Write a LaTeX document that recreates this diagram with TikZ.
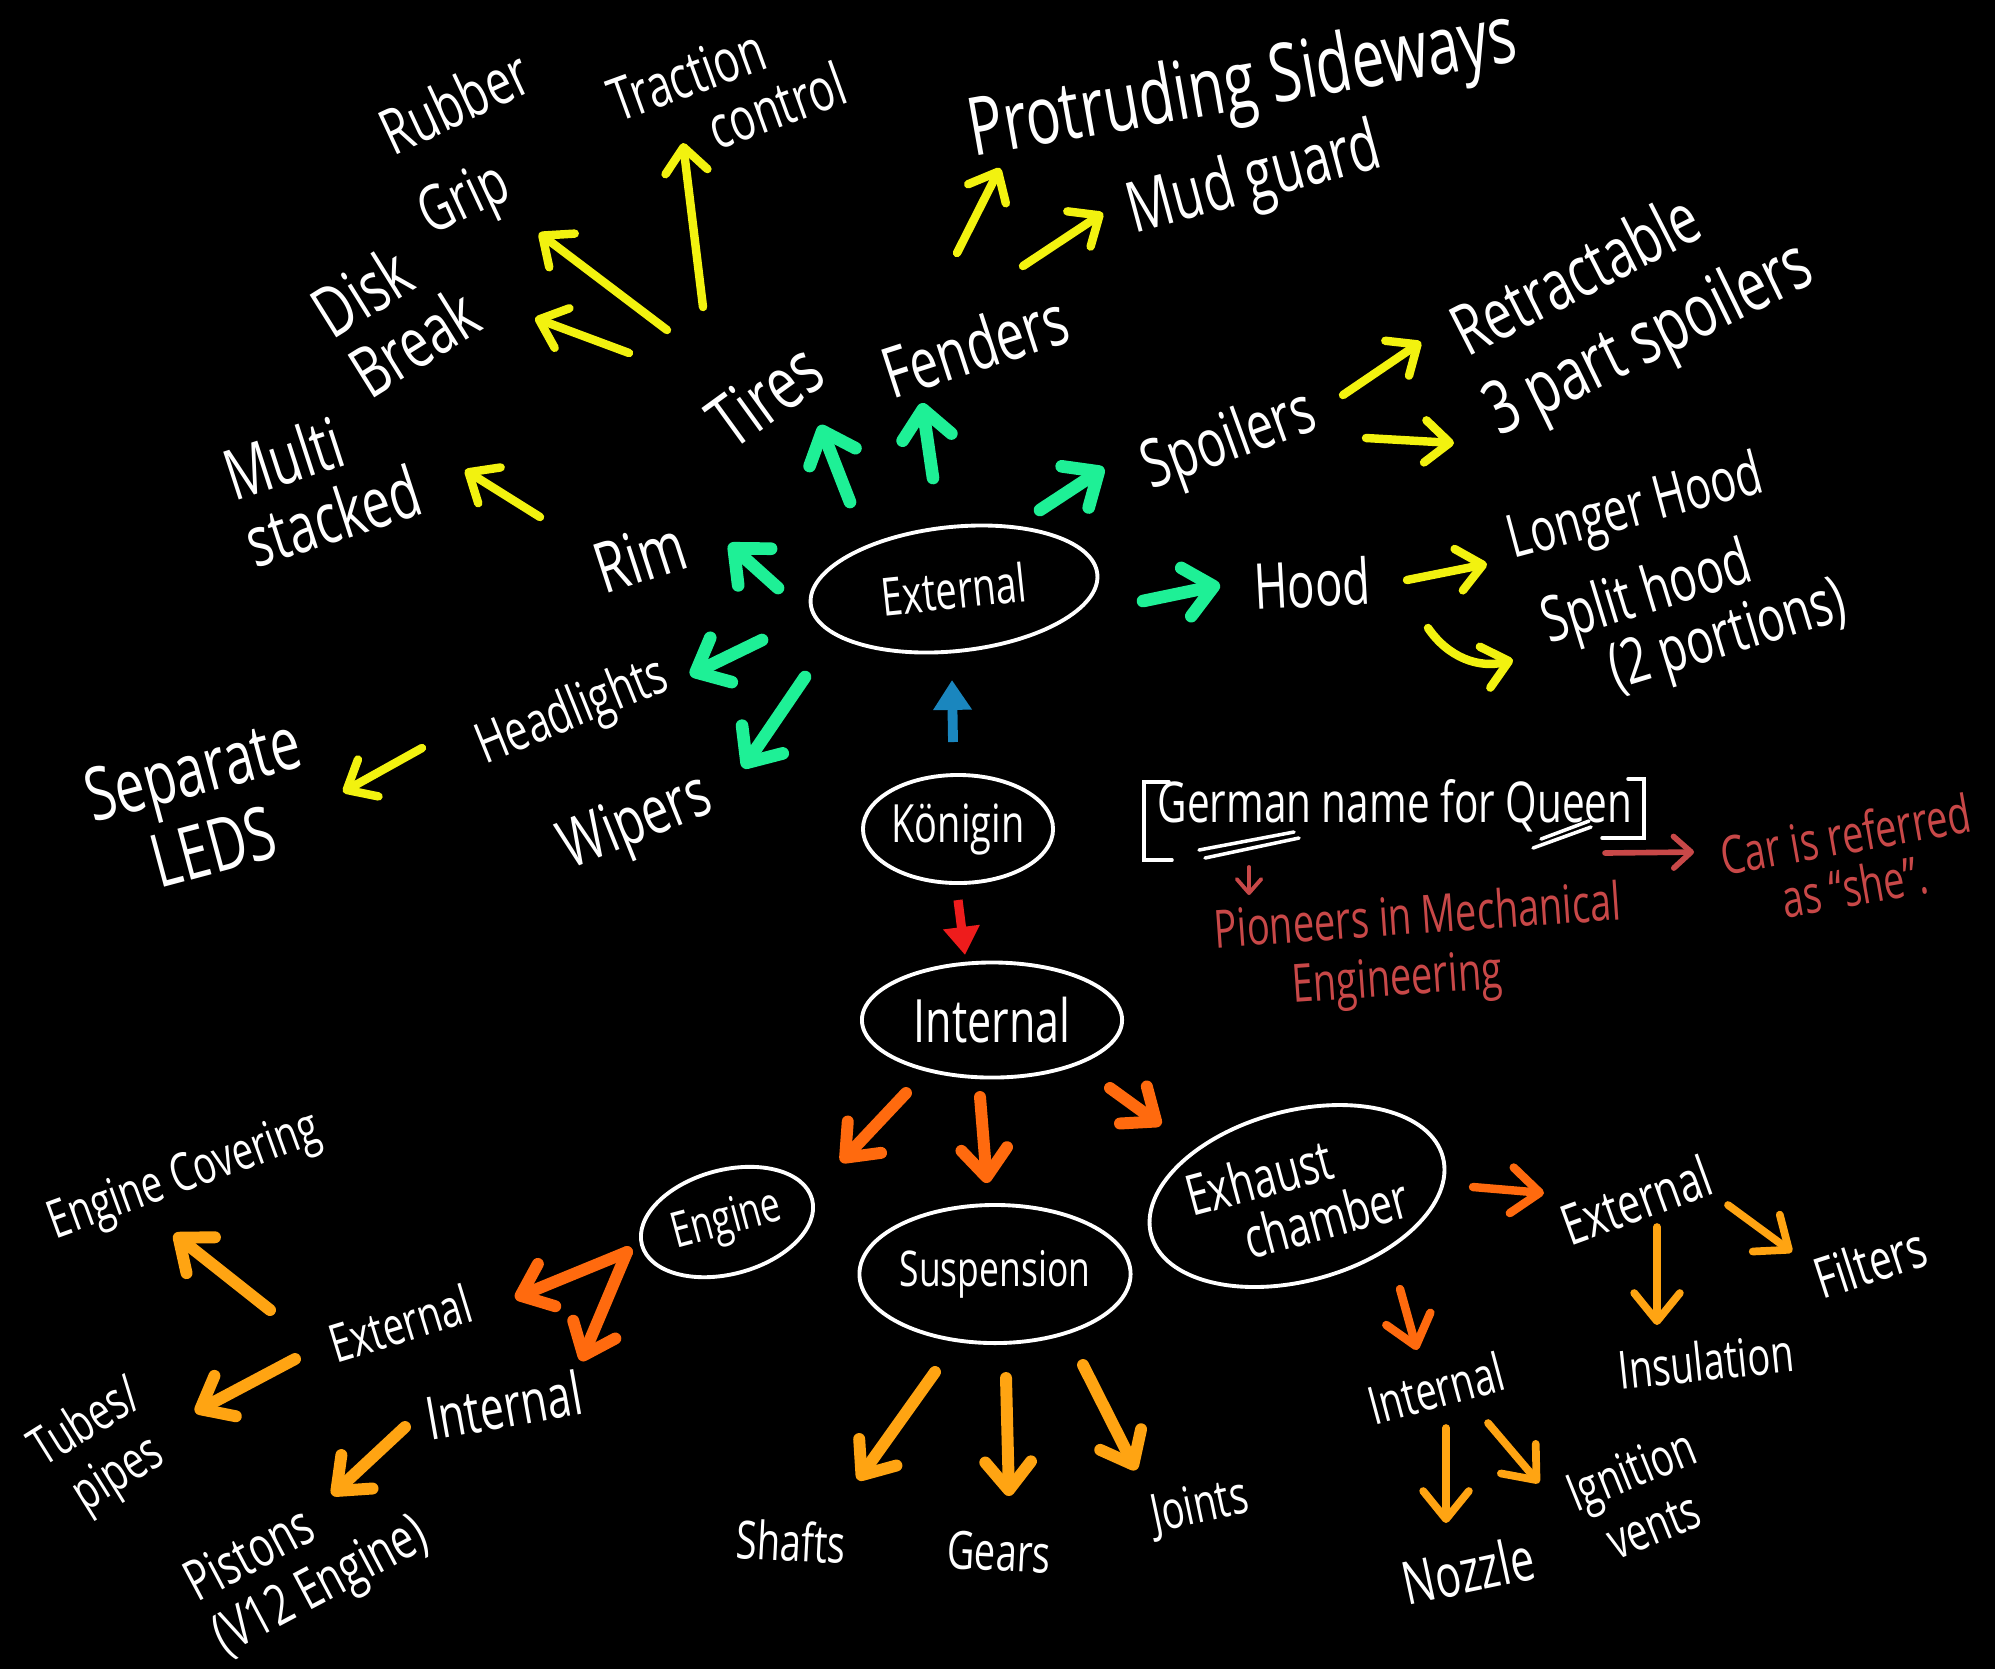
\documentclass[tikz,border=0pt]{standalone}
\usepackage{fontspec}
\setmainfont{Open Sans}[FakeStretch=0.72]
\usetikzlibrary{arrows.meta,shapes.geometric}

\definecolor{mint}{HTML}{1EF096}
\definecolor{lemon}{HTML}{F2F20F}
\definecolor{flame}{HTML}{FF6A0E}
\definecolor{amber}{HTML}{FFA412}
\definecolor{sky}{HTML}{1A86BE}
\definecolor{alarm}{HTML}{EE1C1C}
\definecolor{rose}{HTML}{C84848}
\newcommand{\fsz}[1]{\fontsize{#1}{#1}\selectfont}

\begin{document}
\begin{tikzpicture}[x=0.01cm,y=-0.01cm,
  hand/.style={text=white,align=center,inner sep=1pt},
  bubble/.style={draw=white,line width=1.1pt,ellipse,text=white,inner sep=0pt},
  chalk/.style={white,line width=1pt,line cap=round},
  garrow/.style={mint,line width=3.6pt,line cap=round,-{Straight Barb[length=8pt,width=14pt,round]}},
  yarrow/.style={lemon,line width=2.4pt,line cap=round,-{Straight Barb[length=7pt,width=12pt,round]}},
  oarrow/.style={flame,line width=3.4pt,line cap=round,-{Straight Barb[length=8pt,width=13pt,round]}},
  aarrow/.style={amber,line width=3.4pt,line cap=round,-{Straight Barb[length=8pt,width=13pt,round]}},
  rarrow/.style={rose,line width=1.1pt,line cap=round,-{Straight Barb[length=4pt,width=7pt,round]}}]
\useasboundingbox (0,0) rectangle (1995,1669);
\fill[black] (0,0) rectangle (1995,1669);

% the bubbles
\node[bubble,minimum width=2.88cm,minimum height=1.24cm,rotate=6,font=\fsz{15}] (ext) at (954,589) {External};
\node[bubble,minimum width=1.9cm,minimum height=1.08cm,font=\fsz{15}] (kon) at (958,829) {Königin};
\node[bubble,minimum width=2.6cm,minimum height=1.15cm,font=\fsz{17}] (int) at (992,1020) {Internal};
\node[bubble,minimum width=1.76cm,minimum height=1.04cm,rotate=15,font=\fsz{14}] (eng) at (727,1222) {Engine};
\node[bubble,minimum width=2.71cm,minimum height=1.38cm,font=\fsz{14}] (susp) at (995,1274) {Suspension};
\node[bubble,minimum width=2.9cm,minimum height=1.7cm,rotate=15,align=left,font=\fsz{16}] (exh) at (1297,1196) {Exhaust\\\hspace*{0.8em}chamber};

% outside of the car
\node[hand,rotate=36,font=\fsz{21}] (tires) at (765,395) {Tires};
\node[hand,rotate=18,font=\fsz{20}] (fenders) at (975,345) {Fenders};
\node[hand,rotate=20,font=\fsz{19}] (spoilers) at (1230,443) {Spoilers};
\node[hand,rotate=3,font=\fsz{18}] (hood) at (1312,583) {Hood};
\node[hand,rotate=18,font=\fsz{20}] (rim) at (640,556) {Rim};
\node[hand,rotate=22,font=\fsz{16}] (head) at (573,713) {Headlights};
\node[hand,rotate=22,font=\fsz{19}] (wipers) at (637,825) {Wipers};

\node[hand,rotate=18,align=left,font=\fsz{20}] (multi) at (322,482) {Multi\\stacked};
\node[hand,rotate=15,font=\fsz{21}] (leds) at (203,808) {Separate\\[2pt]LEDS};
\node[hand,rotate=32,align=left,font=\fsz{20}] (disk) at (395,312) {Disk\\Break};
\node[hand,rotate=25,align=left,font=\fsz{18}] (grip) at (476,148) {Rubber\\[7pt]Grip};
\node[hand,rotate=20,align=left,font=\fsz{17}] (traction) at (727,92) {Traction\\\hspace*{1.4em}control};
\node[hand,rotate=10,font=\fsz{23}] (protr) at (1243,88) {Protruding Sideways};
\node[hand,rotate=15,font=\fsz{20}] (mud) at (1255,182) {Mud guard};
\node[hand,rotate=27,font=\fsz{20}] (retr) at (1575,273) {Retractable};
\node[hand,rotate=26,font=\fsz{21}] (spl3) at (1650,342) {3 part spoilers};
\node[hand,rotate=15,font=\fsz{17}] (longer) at (1636,510) {Longer Hood};
\node[hand,rotate=17,align=left,font=\fsz{18}] (split) at (1695,615) {Split hood\\\hspace*{0.8em}(2 portions)};

% the name
\node[hand,font=\fsz{16}] (german) at (1395,806) {German name for Queen};
\node[hand,text=rose,rotate=10,font=\fsz{15}] (car) at (1850,860) {Car is referred\\as “she”.};
\node[hand,text=rose,rotate=4,align=left,font=\fsz{15}] (pioneers) at (1420,950) {Pioneers in Mechanical\\[2pt]\hspace*{21pt}Engineering};

% inside of the car
\node[hand,rotate=20,font=\fsz{15}] (engcov) at (185,1178) {Engine Covering};
\node[hand,rotate=17,font=\fsz{15}] (engext) at (400,1323) {External};
\node[hand,rotate=10,font=\fsz{17}] (engint) at (504,1405) {Internal};
\node[hand,rotate=32,font=\fsz{15}] (tubes) at (103,1450) {Tubes/\\[2pt]pipes};
\node[hand,rotate=28,align=left,font=\fsz{16}] (pistons) at (308,1562) {Pistons\\[1pt](V12 Engine)};
\node[hand,rotate=-3,font=\fsz{15}] (shafts) at (791,1541) {Shafts};
\node[hand,rotate=-3,font=\fsz{15}] (gears) at (999,1552) {Gears};
\node[hand,rotate=12,font=\fsz{15}] (joints) at (1200,1508) {Joints};
\node[hand,rotate=20,font=\fsz{16}] (exhext) at (1636,1200) {External};
\node[hand,rotate=18,font=\fsz{16}] (filters) at (1870,1262) {Filters};
\node[hand,rotate=6,font=\fsz{15}] (insul) at (1706,1361) {Insulation};
\node[hand,rotate=15,font=\fsz{15}] (exhint) at (1436,1388) {Internal};
\node[hand,rotate=12,font=\fsz{17}] (nozzle) at (1468,1570) {Nozzle};
\node[hand,rotate=22,font=\fsz{15}] (ignition) at (1642,1497) {Ignition\\[2pt]vents};

% brackets and underlines round the name
\draw[chalk] ([shift={(-226,-24)}]german.center) -- ++(-25,0) -- ++(0,78) -- ++(28,0);
\draw[chalk] ([shift={(233,-27)}]german.center) -- ++(16,0) -- ++(0,59) -- ++(-42,0);
\draw[chalk] ([shift={(-196,44)}]german.center) -- ([shift={(-101,26)}]german.center);
\draw[chalk] ([shift={(-190,52)}]german.center) -- ([shift={(-96,32)}]german.center);
\draw[chalk] ([shift={(138,42)}]german.center) -- ([shift={(196,21)}]german.center);
\draw[chalk] ([shift={(146,33)}]german.center) -- ([shift={(194,15)}]german.center);

% green: from External
\draw[garrow] ([shift={(-104,-87)}]ext.center) -- ([shift={(55,30)}]tires.center);
\draw[garrow] ([shift={(-21,-111)}]ext.center) -- ([shift={(-53,58)}]fenders.center);
\draw[garrow] ([shift={(86,-79)}]ext.center) -- ([shift={(-126,25)}]spoilers.center);
\draw[garrow] ([shift={(189,12)}]ext.center) -- ([shift={(-92,2)}]hood.center);
\draw[garrow] ([shift={(-176,-1)}]ext.center) -- ([shift={(89,-12)}]rim.center);
\draw[garrow] ([shift={(-192,51)}]ext.center) -- ([shift={(117,-38)}]head.center);
\draw[garrow] ([shift={(-149,88)}]ext.center) -- ([shift={(106,-57)}]wipers.center);

% Königin up and down
\draw[sky,line width=2.8pt,-{Triangle[length=8.5pt,width=10.5pt]}] ([shift={(-5,-87)}]kon.center) -- ([shift={(-2,91)}]ext.center);
\draw[alarm,line width=2.6pt,-{Triangle[length=8pt,width=10pt]}] ([shift={(0,71)}]kon.center) -- ([shift={(-27,-65)}]int.center);

% yellow: second level outside
\draw[yarrow] ([shift={(-136,-42)}]tires.center) -- ([shift={(140,6)}]disk.center);
\draw[yarrow] ([shift={(-98,-65)}]tires.center) -- ([shift={(63,85)}]grip.center);
\draw[yarrow] ([shift={(-62,-88)}]tires.center) -- ([shift={(-44,51)}]traction.center);
\draw[yarrow] ([shift={(-18,-92)}]fenders.center) -- ([shift={(-243,80)}]protr.center);
\draw[yarrow] ([shift={(48,-79)}]fenders.center) -- ([shift={(-152,31)}]mud.center);
\draw[yarrow] ([shift={(-100,-39)}]rim.center) -- ([shift={(143,-12)}]multi.center);
\draw[yarrow] ([shift={(-151,35)}]head.center) -- ([shift={(140,-16)}]leds.center);
\draw[yarrow] ([shift={(113,-48)}]spoilers.center) -- ([shift={(-154,69)}]retr.center);
\draw[yarrow] ([shift={(136,-5)}]spoilers.center) -- ([shift={(-196,101)}]spl3.center);
\draw[yarrow] ([shift={(95,-3)}]hood.center) -- ([shift={(-149,54)}]longer.center);
\draw[yarrow] ([shift={(116,45)}]hood.center) to[bend right=35] ([shift={(-182,45)}]split.center);

% orange: from Internal
\draw[oarrow] ([shift={(-86,73)}]int.center) -- ([shift={(114,-60)}]eng.center);
\draw[oarrow] ([shift={(-12,77)}]int.center) -- ([shift={(-8,-91)}]susp.center);
\draw[oarrow] ([shift={(118,68)}]int.center) -- ([shift={(-136,-71)}]exh.center);
\draw[oarrow] ([shift={(-100,30)}]eng.center) -- ([shift={(115,-25)}]engext.center);
\draw[oarrow] ([shift={(-100,30)}]eng.center) -- ([shift={(77,-44)}]engint.center);
\draw[oarrow,line width=2.4pt] ([shift={(176,-9)}]exh.center) -- ([shift={(-92,-7)}]exhext.center);
\draw[oarrow,line width=2.4pt] ([shift={(103,93)}]exh.center) -- ([shift={(-19,-38)}]exhint.center);

% amber: last level inside
\draw[aarrow] ([shift={(-130,-13)}]engext.center) -- ([shift={(-11,56)}]engcov.center);
\draw[aarrow] ([shift={(-105,36)}]engext.center) -- ([shift={(92,-38)}]tubes.center);
\draw[aarrow] ([shift={(-99,22)}]engint.center) -- ([shift={(24,-67)}]pistons.center);
\draw[aarrow] ([shift={(-60,98)}]susp.center) -- ([shift={(67,-61)}]shafts.center);
\draw[aarrow] ([shift={(11,104)}]susp.center) -- ([shift={(10,-56)}]gears.center);
\draw[aarrow] ([shift={(88,91)}]susp.center) -- ([shift={(-64,-38)}]joints.center);
\draw[aarrow,line width=2.2pt] ([shift={(92,5)}]exhext.center) -- ([shift={(-78,-10)}]filters.center);
\draw[aarrow,line width=2.2pt] ([shift={(21,27)}]exhext.center) -- ([shift={(-49,-36)}]insul.center);
\draw[aarrow,line width=2.2pt] ([shift={(10,40)}]exhint.center) -- ([shift={(-22,-47)}]nozzle.center);
\draw[aarrow,line width=2.2pt] ([shift={(52,35)}]exhint.center) -- ([shift={(-103,-14)}]ignition.center);

% red notes
\draw[rarrow] ([shift={(-146,61)}]german.center) -- ([shift={(-171,-55)}]pioneers.center);
\draw[rarrow,line width=1.6pt,-{Straight Barb[length=5pt,width=9pt,round]}] ([shift={(210,47)}]german.center) -- ([shift={(-156,-8)}]car.center);
\end{tikzpicture}
\end{document}
